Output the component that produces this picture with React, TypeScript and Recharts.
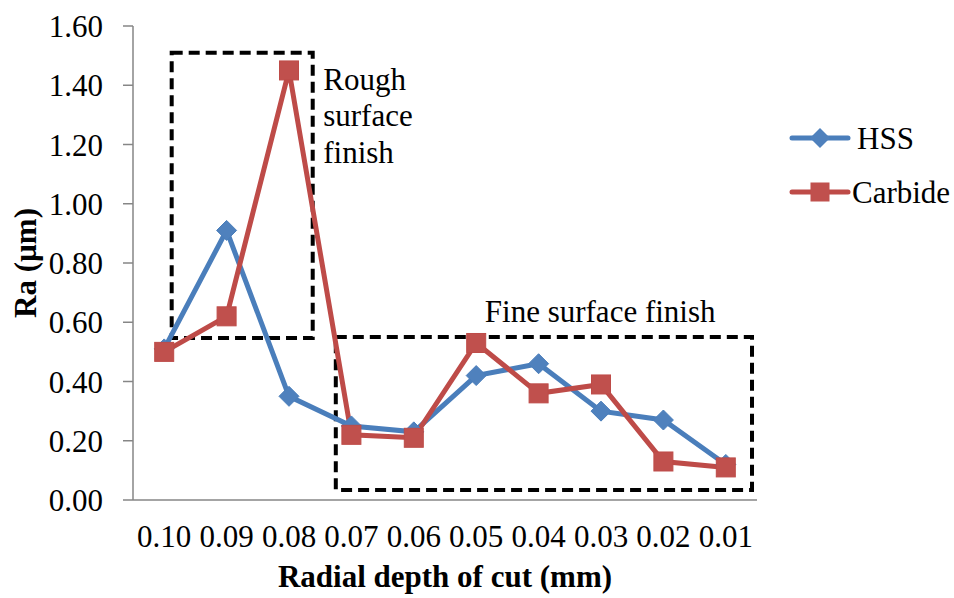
import React from 'react';
import { LineChart, Line, XAxis, YAxis, ReferenceArea, Label } from 'recharts';

const categories = ['0.10', '0.09', '0.08', '0.07', '0.06', '0.05', '0.04', '0.03', '0.02', '0.01'];
const hssValues = [0.51, 0.91, 0.35, 0.25, 0.23, 0.42, 0.46, 0.3, 0.27, 0.12];
const carbideValues = [0.5, 0.62, 1.45, 0.22, 0.21, 0.53, 0.36, 0.39, 0.13, 0.11];
const yTicks = [0, 0.2, 0.4, 0.6, 0.8, 1.0, 1.2, 1.4, 1.6];
const seriesNames = ['HSS', 'Carbide'];
const xTitle = 'Radial depth of cut (mm)';
const yTitle = 'Ra (µm)';

// annotation boxes in data units (x = category index, y = Ra)
const roughBox = { x1: 0.12, x2: 2.38, y1: 0.547, y2: 1.51 };
const roughText = ['Rough', 'surface', 'finish'];
const fineBox = { x1: 2.75, x2: 9.42, y1: 0.034, y2: 0.55 };
const fineText = ['Fine surface finish'];

const data = categories.map((c, i) => ({
  idx: i,
  label: c,
  HSS: hssValues[i],
  Carbide: carbideValues[i],
}));

const FONT = 'Liberation Serif';
const FS = 31;
const TXT: React.CSSProperties = { fontFamily: FONT, fontSize: FS, fill: '#000' };
const TXT_B: React.CSSProperties = { ...TXT, fontWeight: 'bold' };
const BLUE = '#4A7EBB';
const BLUE_FILL = '#4F81BD';
const RED = '#BE4B48';
const RED_FILL = '#C0504D';
const AXIS = '#868686';

const Diamond = (props: any) => {
  const { cx, cy, index } = props;
  if (cx == null || cy == null) return <g key={`d-${index}`} />;
  const h = 10;
  return (
    <path
      key={`d-${index}`}
      d={`M${cx},${cy - h} L${cx + h},${cy} L${cx},${cy + h} L${cx - h},${cy} Z`}
      fill={BLUE_FILL}
      stroke={BLUE}
      strokeWidth={1}
    />
  );
};

const Square = (props: any) => {
  const { cx, cy, index } = props;
  if (cx == null || cy == null) return <g key={`s-${index}`} />;
  const h = 9.5;
  return <rect key={`s-${index}`} x={cx - h} y={cy - h} width={2 * h} height={2 * h} fill={RED_FILL} stroke={RED} strokeWidth={1} />;
};

const XTick = (props: any) => {
  const { x, y, payload } = props;
  return (
    <text x={x} y={y} textAnchor="middle" dy={22} fontFamily={FONT} fontSize={FS} fill="#000" style={TXT}>
      {categories[payload.value] ?? ''}
    </text>
  );
};

const YTick = (props: any) => {
  const { x, y, payload } = props;
  return (
    <text x={x} y={y} textAnchor="end" dy={11} fontFamily={FONT} fontSize={FS} fill="#000" style={TXT}>
      {Number(payload.value).toFixed(2)}
    </text>
  );
};

const RoughLabel = (props: any) => {
  const vb = props.viewBox || {};
  const x = vb.x + vb.width + 10.5;
  return (
    <text fontFamily={FONT} fontSize={FS} fill="#000" style={TXT}>
      {roughText.map((t, i) => (
        <tspan key={t} x={x} y={vb.y + 37 + i * 36.5}>
          {t}
        </tspan>
      ))}
    </text>
  );
};

const FineLabel = (props: any) => {
  const vb = props.viewBox || {};
  return (
    <text x={vb.x + 149} y={vb.y - 15} fontFamily={FONT} fontSize={FS} fill="#000" style={TXT}>
      {fineText[0]}
    </text>
  );
};

const YTitle = (props: any) => {
  const vb = props.viewBox || {};
  const cy = vb.y + vb.height / 2;
  const cx = 25;
  return (
    <text
      x={cx}
      y={cy}
      transform={`rotate(-90, ${cx}, ${cy})`}
      textAnchor="middle"
      dominantBaseline="central"
      fontFamily={FONT}
      fontSize={FS}
      fontWeight="bold"
      fill="#000"
      style={TXT_B}
    >
      {yTitle}
    </text>
  );
};

const XTitle = (props: any) => {
  const vb = props.viewBox || {};
  const cx = vb.x + vb.width / 2;
  return (
    <text x={cx} y={vb.y + vb.height - 11} textAnchor="middle" fontFamily={FONT} fontSize={FS} fontWeight="bold" fill="#000" style={TXT_B}>
      {xTitle}
    </text>
  );
};

export default function App() {
  return (
    <div style={{ position: 'absolute', left: 0, top: 0, width: 954, height: 598, background: '#fff', fontFamily: FONT }}>
      <LineChart width={954} height={598} data={data} margin={{ top: 26, right: 197, bottom: 0, left: 0 }}>
        <XAxis
          dataKey="idx"
          type="number"
          domain={[-0.5, 9.5]}
          ticks={categories.map((_, i) => i)}
          interval={0}
          height={98}
          tickLine={false}
          tickSize={0}
          tickMargin={25}
          axisLine={{ stroke: AXIS, strokeWidth: 1.5 }}
          tick={<XTick />}
        >
          <Label content={<XTitle />} />
        </XAxis>
        <YAxis
          type="number"
          domain={[0, 1.6]}
          ticks={yTicks}
          interval={0}
          width={133}
          tickSize={10}
          tickMargin={20}
          axisLine={{ stroke: AXIS, strokeWidth: 1.5 }}
          tickLine={{ stroke: AXIS, strokeWidth: 1.5 }}
          tick={<YTick />}
        >
          <Label content={<YTitle />} />
        </YAxis>
        <Line
          type="linear"
          dataKey="HSS"
          stroke={BLUE}
          strokeWidth={5}
          dot={<Diamond />}
          activeDot={false}
          isAnimationActive={false}
        />
        <Line
          type="linear"
          dataKey="Carbide"
          stroke={RED}
          strokeWidth={5}
          dot={<Square />}
          activeDot={false}
          isAnimationActive={false}
        />
        <ReferenceArea
          x1={roughBox.x1}
          x2={roughBox.x2}
          y1={roughBox.y1}
          y2={roughBox.y2}
          fill="none"
          fillOpacity={0}
          stroke="#000"
          strokeWidth={4}
          strokeDasharray="11 6"
          ifOverflow="visible"
          label={<RoughLabel />}
        />
        <ReferenceArea
          x1={fineBox.x1}
          x2={fineBox.x2}
          y1={fineBox.y1}
          y2={fineBox.y2}
          fill="none"
          fillOpacity={0}
          stroke="#000"
          strokeWidth={4}
          strokeDasharray="11 6"
          ifOverflow="visible"
          label={<FineLabel />}
        />
        <g className="legend" transform="translate(785, 110)">
          <line x1={7} x2={63} y1={28} y2={28} stroke={BLUE} strokeWidth={5} strokeLinecap="round" />
          <path d="M35,18 L45,28 L35,38 L25,28 Z" fill={BLUE_FILL} />
          <text x={72} y={39} fontFamily={FONT} fontSize={FS} fill="#000" style={TXT}>
            {seriesNames[0]}
          </text>
          <line x1={7} x2={63} y1={82} y2={82} stroke={RED} strokeWidth={5} strokeLinecap="round" />
          <rect x={25.5} y={72.5} width={19} height={19} fill={RED_FILL} />
          <text x={67} y={93} fontFamily={FONT} fontSize={FS} fill="#000" style={TXT}>
            {seriesNames[1]}
          </text>
        </g>
      </LineChart>
    </div>
  );
}
